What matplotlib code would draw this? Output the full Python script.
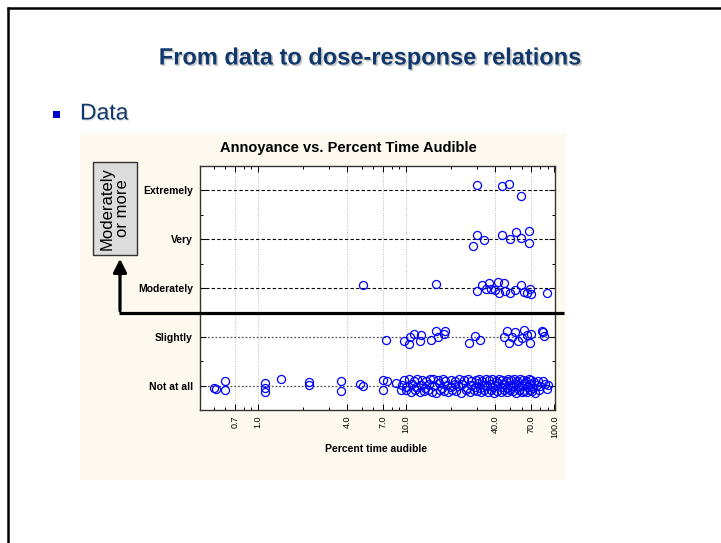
import matplotlib
matplotlib.use("Agg")
import matplotlib.pyplot as plt
import matplotlib.patheffects as pe
from matplotlib.lines import Line2D
from matplotlib.patches import Rectangle, FancyArrowPatch
from matplotlib.ticker import LogLocator, NullFormatter

plt.rcParams["font.family"] = ["Liberation Sans", "DejaVu Sans"]

LEVELS = ["Not at all", "Slightly", "Moderately", "Very", "Extremely"]
X_TICKS = [0.7, 1.0, 4.0, 7.0, 10.0, 40.0, 70.0, 100.0]
X_TICK_LABELS = ["0.7", "1.0", "4.0", "7.0", "10.0", "40.0", "70.0", "100.0"]

# percent time audible / vertical jitter around the rating line
notatall_x = [0.50, 0.52, 0.60, 0.60, 1.11, 1.11, 1.11, 1.43, 2.22, 2.22,
              3.62, 3.62, 4.89, 5.14, 6.92, 7.41, 6.92, 8.58, 9.21,
              9.6, 10.4, 11.2, 11.9, 12.8, 13.6, 14.5, 15.2, 16.3, 17.6,
              18.4, 19.9, 21.2, 22.7, 24.6, 26.1, 27.5, 29.4, 30.8, 32.6,
              34.5, 36.1, 38.2, 40.3, 42.2, 44.6, 46.8, 48.5, 51.0, 53.6,
              56.0, 58.8, 61.2, 64.0, 66.9, 69.4, 72.5, 77.0, 84.0,
              9.9, 10.7, 11.5, 12.3, 13.1, 14.0, 14.9, 15.8, 16.9, 18.0,
              19.2, 20.5, 21.8, 23.4, 25.2, 26.8, 28.6, 30.1, 31.9, 33.7,
              35.4, 37.2, 39.1, 41.1, 43.4, 45.5, 47.6, 49.9, 52.2, 54.9,
              57.5, 60.2, 62.8, 65.6, 68.3, 71.0, 74.5, 79.0, 88.5,
              9.3, 10.0, 10.9, 11.7, 12.6, 13.4, 14.3, 15.5, 16.6, 17.3,
              18.9, 20.1, 21.5, 22.3, 23.9, 25.7, 27.2, 28.9, 30.4, 31.6,
              33.4, 35.0, 36.9, 38.8, 40.0, 41.9, 43.8, 46.0, 48.2, 50.4,
              52.9, 55.2, 57.9, 60.6, 63.4, 66.0, 69.0, 71.9, 75.9, 80.5,
              86.0, 91.0]
notatall_j = [-0.04, -0.06, 0.09, -0.08, 0.06, -0.04, -0.13, 0.14, 0.08, 0.01,
              0.10, -0.12, 0.04, -0.01, 0.12, 0.09, -0.08, 0.06, -0.08,
              0.11, 0.13, 0.10, 0.14, 0.12, 0.09, 0.13, 0.14, 0.11, 0.13,
              0.10, 0.12, 0.09, 0.13, 0.11, 0.14, 0.10, 0.12, 0.14, 0.09,
              0.13, 0.11, 0.14, 0.10, 0.13, 0.12, 0.09, 0.14, 0.11, 0.13,
              0.10, 0.14, 0.12, 0.09, 0.13, 0.11, 0.08, 0.10, 0.09,
              -0.10, -0.13, -0.08, -0.14, -0.11, -0.09, -0.13, -0.15, -0.10, -0.12,
              -0.14, -0.09, -0.12, -0.15, -0.10, -0.13, -0.08, -0.12, -0.14, -0.10,
              -0.13, -0.09, -0.15, -0.11, -0.13, -0.08, -0.14, -0.10, -0.12, -0.15,
              -0.09, -0.13, -0.11, -0.14, -0.10, -0.12, -0.15, -0.09, -0.06,
              0.02, -0.03, 0.04, -0.02, 0.01, -0.04, 0.03, -0.01, 0.05, -0.05,
              0.02, -0.03, 0.04, -0.01, 0.03, -0.04, 0.01, -0.02, 0.05, -0.05,
              0.02, -0.01, 0.04, -0.03, 0.01, 0.05, -0.02, 0.03, -0.05, 0.02,
              -0.01, 0.04, -0.03, 0.01, 0.05, -0.02, 0.03, -0.04, 0.02, -0.01,
              0.03, 0.01]

slightly_x = [7.33, 9.6, 10.4, 10.6, 11.3, 12.3, 12.6, 14.7, 15.9, 16.5,
              18.3, 17.9, 26.4, 29.3, 31.6, 45.4, 47.9, 49.1, 51.8, 54.5,
              56.5, 60.5, 62.7, 65.3, 68.1, 69.6, 82.6, 84.7, 83.5]
slightly_j = [-0.06, -0.09, -0.15, -0.01, 0.06, -0.09, 0.03, -0.06, 0.12, -0.01,
              0.12, 0.05, -0.13, 0.01, -0.06, 0.00, 0.12, -0.12, -0.01, 0.09,
              -0.08, -0.03, 0.13, 0.04, -0.12, 0.06, 0.12, 0.02, 0.09]

moderately_x = [5.10, 15.9, 30.0, 32.5, 34.7, 36.0, 37.5, 39.9, 41.6, 42.0,
                45.9, 46.7, 49.9, 54.5, 59.6, 62.1, 65.3, 68.8, 69.6, 89.2]
moderately_j = [0.06, 0.08, -0.06, 0.06, -0.02, 0.11, -0.02, -0.04, 0.13, -0.10,
                0.11, -0.07, -0.10, -0.04, 0.06, -0.08, -0.10, -0.02, -0.12, -0.10]

very_x = [30.0, 33.3, 28.2, 44.3, 50.4, 55.1, 59.6, 67.0, 67.0]
very_j = [0.08, -0.02, -0.14, 0.08, 0.00, 0.15, 0.02, 0.16, -0.08]

extremely_x = [30.0, 44.3, 49.1, 59.8]
extremely_j = [0.12, 0.08, 0.13, -0.11]

W, H = 721, 543
NAVY = "#11386B"
CREAM = "#FEF9EE"


def fx(px):
    return px / W


def fy(py):
    return 1 - py / H


fig = plt.figure(figsize=(W / 100, H / 100), dpi=100)
fig.patch.set_facecolor("white")

# slide frame
fig.add_artist(Line2D([fx(6.6), fx(721)], [fy(7.5), fy(7.5)], color="black", lw=1.8,
                      solid_capstyle="butt"))
fig.add_artist(Line2D([fx(7.5), fx(7.5)], [fy(6.6), fy(543)], color="black", lw=1.8,
                      solid_capstyle="butt"))

shadow = [pe.withSimplePatchShadow(offset=(1.2, -1.2), shadow_rgbFace="#9A9A9A", alpha=0.5)]
fig.text(fx(370.5), fy(58), "From data to dose-response relations", ha="center", va="center",
         fontsize=17, fontweight="bold", color=NAVY, path_effects=shadow)

fig.add_artist(Rectangle((fx(53), fy(117.5)), 7 / W, 6.5 / H, transform=fig.transFigure,
                         facecolor="#0000CC", edgecolor="none"))
fig.text(fx(80), fy(113), "Data", ha="left", va="center", fontsize=16.5, color=NAVY,
         path_effects=[pe.withSimplePatchShadow(offset=(0.8, -0.8), shadow_rgbFace="#AAAAAA", alpha=0.4)])

# cream chart panel
fig.add_artist(Rectangle((fx(80), fy(480)), 486 / W, 347 / H, transform=fig.transFigure,
                         facecolor=CREAM, edgecolor="none", zorder=0))

ax = fig.add_axes([fx(200), fy(410), 355 / W, 244 / H])
ax.set_facecolor("white")
ax.set_xscale("log")
ax.set_xlim(0.405, 101)
ax.set_ylim(-0.5, 4.5)

for lvl in range(5):
    if lvl >= 2:
        ax.axhline(lvl, color="black", lw=0.8, ls=(0, (3, 2)), zorder=1)
    else:
        ax.axhline(lvl, color="#555555", lw=0.9, ls=(0, (1.5, 1.5)), zorder=1)
for xv in X_TICKS[:-1]:
    ax.axvline(xv, color="#BBBBBB", lw=0.7, ls=(0, (1, 1.5)), zorder=0.5)

series = [(notatall_x, notatall_j, 0), (slightly_x, slightly_j, 1),
          (moderately_x, moderately_j, 2), (very_x, very_j, 3),
          (extremely_x, extremely_j, 4)]
for xs, js, lvl in series:
    ax.plot(xs, [lvl + j for j in js], "o", mfc="none", mec="#0000FF", ms=5.8, mew=0.9,
            zorder=3)

ax.set_xticks(X_TICKS)
ax.set_xticklabels(X_TICK_LABELS, rotation=90, fontsize=6.5)
ax.xaxis.set_minor_locator(LogLocator(base=10, subs=(2, 3, 4, 5, 6, 7, 8, 9)))
ax.xaxis.set_minor_formatter(NullFormatter())
ax.set_yticks(range(5))
ax.set_yticklabels(LEVELS, fontsize=7.5, fontweight="bold")
ax.set_yticks([0.5, 1.5, 2.5, 3.5], minor=True)
ax.tick_params(which="both", direction="in", top=True, right=True, width=0.7)
ax.tick_params(which="major", length=4)
ax.tick_params(which="minor", length=2.5)
ax.tick_params(axis="y", pad=5)
ax.tick_params(axis="x", pad=4)
for sp in ax.spines.values():
    sp.set_linewidth(1.0)
    sp.set_color("#333333")

fig.text(fx(348.5), fy(148), "Annoyance vs. Percent Time Audible", ha="center", va="center",
         fontsize=10.5, fontweight="bold")
fig.text(fx(376.5), fy(449), "Percent time audible", ha="center", va="center",
         fontsize=7.5, fontweight="bold")

# "Moderately or more" cut-off marker
fig.add_artist(Rectangle((fx(93), fy(255)), 44 / W, 93 / H, transform=fig.transFigure,
                         facecolor="#DCDCDC", edgecolor="#333333", lw=1.0))
fig.text(fx(115), fy(208.5), "Moderately\nor more", rotation=90, ha="center", va="center",
         fontsize=12, linespacing=1.0)
fig.add_artist(Line2D([fx(118.5), fx(564)], [fy(312.5), fy(312.5)], color="black", lw=2.3,
                      solid_capstyle="butt"))
fig.add_artist(FancyArrowPatch((fx(120), fy(313.5)), (fx(120), fy(256)), transform=fig.transFigure,
                               arrowstyle="-|>,head_length=5,head_width=2.5", color="black",
                               lw=2.3, mutation_scale=1.6))

fig.savefig("out.png", dpi=100)
